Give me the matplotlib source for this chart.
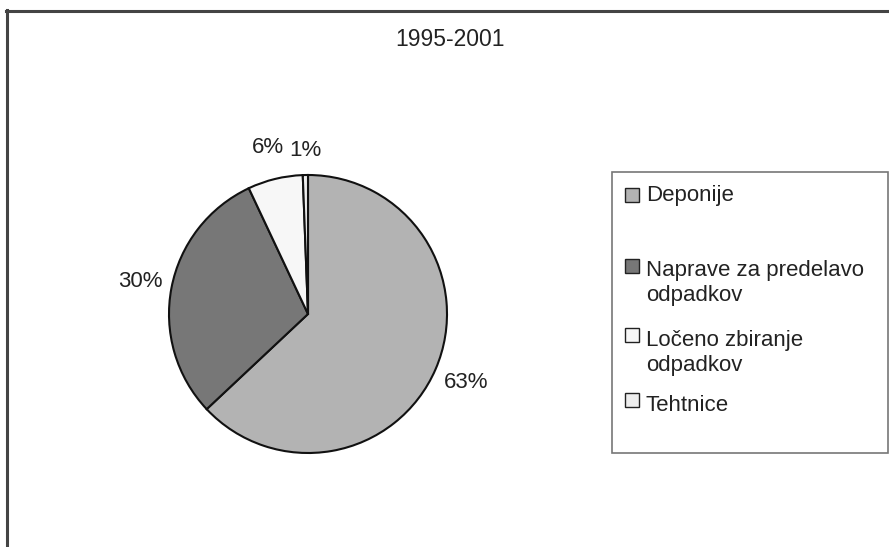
import numpy as np
import matplotlib
matplotlib.use("Agg")
import matplotlib.pyplot as plt
from matplotlib.patches import Rectangle
from matplotlib.lines import Line2D

plt.rcParams['font.family'] = ['Liberation Sans', 'DejaVu Sans']

title = "1995-2001"
categories = ["Deponije", "Naprave za predelavo\nodpadkov", "Ločeno zbiranje\nodpadkov", "Tehtnice"]
values = [63.0, 30.0, 6.4, 0.6]
colors = ["#b3b3b3", "#777777", "#f7f7f7", "#eeeeee"]

W, H = 889, 547
fig = plt.figure(figsize=(W / 100, H / 100), dpi=100)

def fx(px):
    return px / W

def fy(py):
    return 1 - py / H

# outer border (left and top)
fig.add_artist(Line2D([fx(7), fx(7)], [0, fy(10)], color="#444444", lw=2.2, transform=fig.transFigure))
fig.add_artist(Line2D([fx(6), 1], [fy(10.5), fy(10.5)], color="#444444", lw=2.2, transform=fig.transFigure))

fig.text(fx(450), fy(40), title, ha="center", va="center", fontsize=16.5, color="#222222")

cx, cy, r = 308, 314, 139
ax = fig.add_axes([fx(cx - r), fy(cy + r), fx(2 * r), (2 * r) / H])
wedges, texts, autotexts = ax.pie(values, colors=colors, startangle=90, counterclock=False,
                                  autopct='%.0f%%', pctdistance=1.22,
                                  wedgeprops=dict(edgecolor="#111111", linewidth=1.5),
                                  textprops=dict(fontsize=16, color="#222222"))
label_dist = [1.24, 1.23, 1.23, 1.18]
for w, t, d in zip(wedges, autotexts, label_dist):
    ang = np.deg2rad((w.theta1 + w.theta2) / 2)
    t.set_position((d * np.cos(ang), d * np.sin(ang)))
ax.set_xlim(-1, 1)
ax.set_ylim(-1, 1)
ax.set_aspect("auto")
ax.axis("off")

# legend box
fig.add_artist(Rectangle((fx(612), fy(453)), fx(888) - fx(612), fy(172) - fy(453),
                         transform=fig.transFigure, facecolor="white", edgecolor="#777777", lw=1.2))
sq_y = [194.5, 266, 335, 400]
base_y = [201, 276, 346, 411]
line_gap = 25
sq = 14
for c, col, ys, yb in zip(categories, colors, sq_y, base_y):
    fig.add_artist(Rectangle((fx(625), fy(ys + sq / 2)), fx(sq), sq / H, transform=fig.transFigure,
                             facecolor=col, edgecolor="#222222", lw=1.0))
    for i, line in enumerate(c.split("\n")):
        fig.text(fx(646), fy(yb + i * line_gap), line, ha="left", va="baseline",
                 fontsize=16, color="#222222")

fig.savefig("out.png", dpi=100)
